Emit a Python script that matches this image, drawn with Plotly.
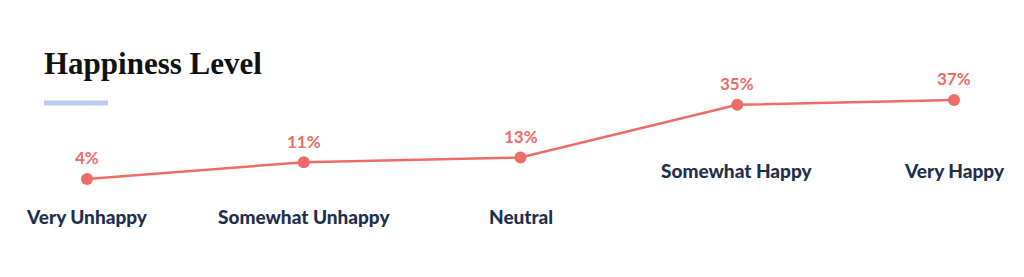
import plotly.graph_objects as go

categories = ["Very Unhappy", "Somewhat Unhappy", "Neutral", "Somewhat Happy", "Very Happy"]
values = [4, 11, 13, 35, 37]
value_labels = ["4%", "11%", "13%", "35%", "37%"]
label_rows = [0.22, 0.22, 0.22, 0.383, 0.383]

W, H = 1024, 277
LINE = "#ee6b66"
NAVY = "#1e2f4d"

fig = go.Figure()
fig.add_trace(go.Scatter(
    x=categories, y=values, mode="lines+markers",
    line=dict(color=LINE, width=2.5),
    marker=dict(color=LINE, size=12),
    hoverinfo="skip", showlegend=False,
))

annotations = []
for c, v, t in zip(categories, values, value_labels):
    annotations.append(dict(x=c, y=v, xref="x", yref="y", text=t,
                            showarrow=False, yshift=21,
                            font=dict(family="Lato", size=17, color=LINE, weight=700)))
for c, r in zip(categories, label_rows):
    annotations.append(dict(x=c, y=r, xref="x", yref="paper", text=c,
                            showarrow=False, yanchor="middle",
                            font=dict(family="Lato", size=19, color=NAVY, weight=900)))
annotations.append(dict(x=42 / W, y=1 - 64 / H, xref="paper", yref="paper",
                        text="<b>Happiness Level</b>", showarrow=False,
                        xanchor="left", yanchor="middle",
                        font=dict(family="Liberation Serif", size=31, color="#111111")))

fig.update_layout(
    width=W, height=H,
    margin=dict(l=0, r=0, t=0, b=0),
    paper_bgcolor="#ffffff", plot_bgcolor="rgba(0,0,0,0)",
    xaxis=dict(range=[-0.4014, 4.3229], visible=False, fixedrange=True),
    yaxis=dict(range=[-36.94, 78.77], visible=False, fixedrange=True),
    annotations=annotations,
    shapes=[dict(type="rect", xref="paper", yref="paper",
                 x0=44 / W, x1=108 / W, y0=1 - 105.5 / H, y1=1 - 100.5 / H,
                 fillcolor="#b8ccf0", line=dict(width=0))],
)

fig.write_html("out.html", config={"displayModeBar": False})
